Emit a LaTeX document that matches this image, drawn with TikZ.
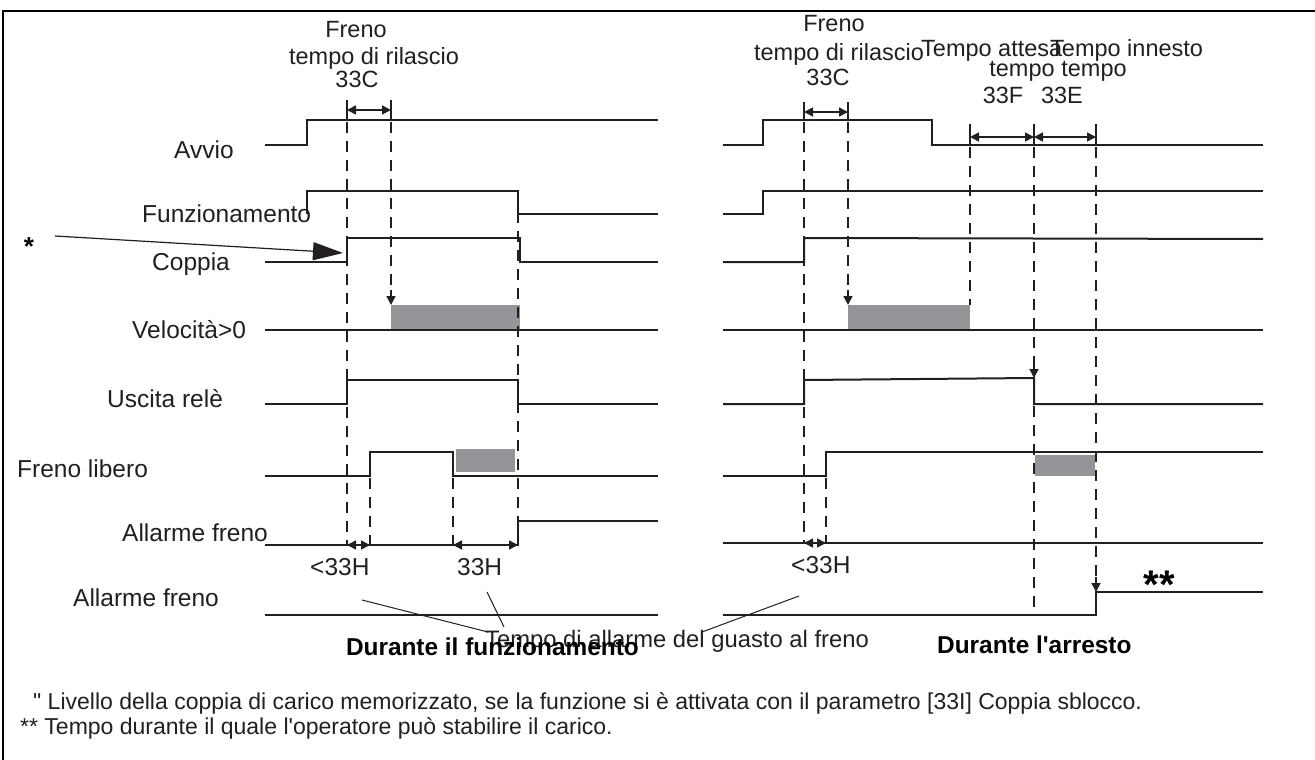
\documentclass[tikz,border=0pt]{standalone}
\usepackage{fontspec}
\setmainfont{Liberation Sans}[Ligatures=TeXOff]
\usetikzlibrary{arrows.meta}
\definecolor{sig}{HTML}{231F20}
\definecolor{band}{HTML}{939598}
\begin{document}
\begin{tikzpicture}[x=1pt,y=-1pt,
  sigline/.style={line width=2pt, draw=sig, line join=miter, line cap=butt},
  dashv/.style={line width=1.8pt, draw=sig, dash pattern=on 11pt off 8pt},
  tickline/.style={line width=1.6pt, draw=sig},
  dimarr/.style={line width=1.6pt, draw=sig, {Triangle[length=9pt,width=9pt]}-{Triangle[length=9pt,width=9pt]}},
  downarr/.style={line width=1.6pt, draw=sig, -{Triangle[length=9pt,width=9pt]}},
  bandbox/.style={fill=band, draw=none},
  thinline/.style={line width=1pt, draw=sig},
  lbl/.style={inner sep=0pt, anchor=base west, font=\fontsize{24.5}{28}\selectfont, text=sig},
  toplbl/.style={inner sep=0pt, anchor=base, font=\fontsize{23.5}{27}\selectfont, text=sig},
  toplblw/.style={inner sep=0pt, anchor=base west, font=\fontsize{23.5}{27}\selectfont, text=sig},
  bold/.style={inner sep=0pt, font=\fontsize{24.4}{28}\selectfont\bfseries, text=black},
  foot/.style={inner sep=0pt, anchor=base west, font=\fontsize{23}{26}\selectfont, text=sig}
]
\useasboundingbox (0,0) rectangle (1315,760);
\fill[white] (0,0) rectangle (1315,760);
% frame
\draw[line width=2.5pt, black] (3,760) -- (3,11) -- (1315,11);

% ---------- gray bands ----------
\fill[bandbox] (391,305) rectangle (520,329);
\fill[bandbox] (456,449) rectangle (515,472);
\fill[bandbox] (848,305) rectangle (970,329);
\fill[bandbox] (1035,455) rectangle (1095,476);

% ---------- left panel signals ----------
\draw[sigline] (265,145) -- (307,145) -- (307,120) -- (658,120);
\draw[sigline] (307,214) -- (307,191) -- (518,191) -- (518,214) -- (658,214);
\draw[sigline] (265,262) -- (347,262) -- (347,238) -- (520,238) -- (520,262) -- (658,262);
\draw[sigline] (265,330) -- (658,330);
\draw[sigline] (265,404) -- (347,404) -- (347,380) -- (518,380) -- (518,404) -- (658,404);
\draw[sigline] (265,476) -- (370,476) -- (370,452) -- (453,452) -- (453,476) -- (658,476);
\draw[sigline] (265,545) -- (518,545) -- (518,521) -- (658,521);
\draw[sigline] (265,615) -- (658,615);

% ---------- right panel signals ----------
\draw[sigline] (723,145) -- (763,145) -- (763,120) -- (932,120) -- (932,145) -- (1263,145);
\draw[sigline] (723,214) -- (763,214) -- (763,191) -- (1263,191);
\draw[sigline] (723,262) -- (804,262) -- (804,238) -- (1263,239);
\draw[sigline] (723,330) -- (1263,330);
\draw[sigline] (723,404) -- (804,404) -- (804,380) -- (1034,378) -- (1034,404) -- (1263,404);
\draw[sigline] (723,476) -- (826,476) -- (826,452) -- (1263,452);
\draw[sigline] (723,543) -- (1263,543);
\draw[sigline] (723,615) -- (1096,615) -- (1096,592) -- (1263,592);

% ---------- dashed guides left ----------
\draw[dashv] (347,122) -- (347,545);
\draw[dashv] (391,122) -- (391,296);
\draw[downarr] (391,290) -- (391,305);
\draw[dashv] (518,193) -- (518,545);
\draw[dashv] (370,478) -- (370,545);
\draw[dashv] (453,478) -- (453,545);

% ---------- dashed guides right ----------
\draw[dashv] (804,122) -- (804,543);
\draw[dashv] (848,122) -- (848,296);
\draw[downarr] (848,290) -- (848,305);
\draw[dashv] (970,147) -- (970,305);
\draw[dashv] (1034,147) -- (1034,368);
\draw[downarr] (1034,363) -- (1034,378);
\draw[dashv] (1034,406) -- (1034,615);
\draw[dashv] (1096,147) -- (1096,582);
\draw[downarr] (1096,577) -- (1096,592);
\draw[dashv] (826,478) -- (826,543);

% ---------- ticks and dimension arrows ----------
\draw[tickline] (347,100) -- (347,121);
\draw[tickline] (391,100) -- (391,121);
\draw[dimarr] (347,110) -- (391,110);
\draw[tickline] (804,102) -- (804,121);
\draw[tickline] (848,102) -- (848,121);
\draw[dimarr] (804,112) -- (848,112);
\draw[tickline] (970,124) -- (970,146);
\draw[tickline] (1034,124) -- (1034,146);
\draw[tickline] (1096,124) -- (1096,146);
\draw[dimarr] (970,137) -- (1034,137);
\draw[dimarr] (1034,137) -- (1096,137);
\draw[dimarr] (347,545) -- (370,545);
\draw[dimarr] (453,545) -- (518,545);
\draw[dimarr] (804,543) -- (826,543);

% ---------- star pointer ----------
\node[inner sep=0pt, anchor=base, font=\fontsize{26}{28}\selectfont\bfseries] (star) at (29,255) {*};
\coordinate (startip) at (343,253);
\draw[line width=1.2pt, draw=sig, -{Triangle[length=30pt,width=18pt]}] (55,236) -- (startip);

% ---------- labels ----------
\node[lbl] (avvio) at (174,158) {Avvio};
\node[lbl] (funz) at (142,222) {Funzionamento};
\node[lbl] (coppia) at (152,270) {Coppia};
\node[lbl] (vel) at (132,338) {Velocità>0};
\node[lbl] (usc) at (107,407) {Uscita relè};
\node[lbl] (freno) at (17,477) {Freno libero};
\node[lbl] (all1) at (122,541) {Allarme freno};
\node[lbl] (all2) at (73,606) {Allarme freno};

\node[toplbl] (fL1) at (356,38) {Freno};
\node[toplbl] (fL2) at (374,65) {tempo di rilascio};
\node[toplbl] (fL3) at (357,88) {33C};
\node[toplbl] (fR1) at (834,32) {Freno};
\node[toplbl] (fR2) at (839,60) {tempo di rilascio};
\node[toplbl] (fR3) at (828,85) {33C};
\node[toplblw] (tatt) at (921,57) {Tempo attesa};
\node[toplblw] (tinn) at (1050,57) {Tempo innesto};
\node[toplbl] (tp1) at (1022,77) {tempo};
\node[toplbl] (tp2) at (1094,77) {tempo};
\node[toplbl] (f33) at (1003,103) {33F};
\node[toplbl] (e33) at (1062,103) {33E};

\node[lbl] (h1) at (310,575) {<33H};
\node[lbl] (h2) at (457,575) {33H};
\node[lbl] (h3) at (791,573) {<33H};
\node[inner sep=0pt, anchor=base, font=\fontsize{40}{42}\selectfont\bfseries] (dstar) at (1159,598) {**};

% callout
\node[lbl, font=\fontsize{23.8}{27}\selectfont] (tall) at (485,647) {Tempo di allarme del guasto al freno};
\draw[thinline] (362,600) -- (488,632);
\draw[thinline] (487,592) -- (504,627);
\draw[thinline] (799,596) -- (702,632);

\node[bold, anchor=base east] (dfunz) at (639,655) {Durante il funzionamento};
\node[bold, anchor=base west] (darr) at (937,653) {Durante l'arresto};

\node[foot] (n1) at (33,709) {{\char"22} Livello della coppia di carico memorizzato, se la funzione si è attivata con il parametro [33I] Coppia sblocco.};
\node[foot] (n2) at (20,734) {** Tempo durante il quale l'operatore può stabilire il carico.};
\end{tikzpicture}
\end{document}
